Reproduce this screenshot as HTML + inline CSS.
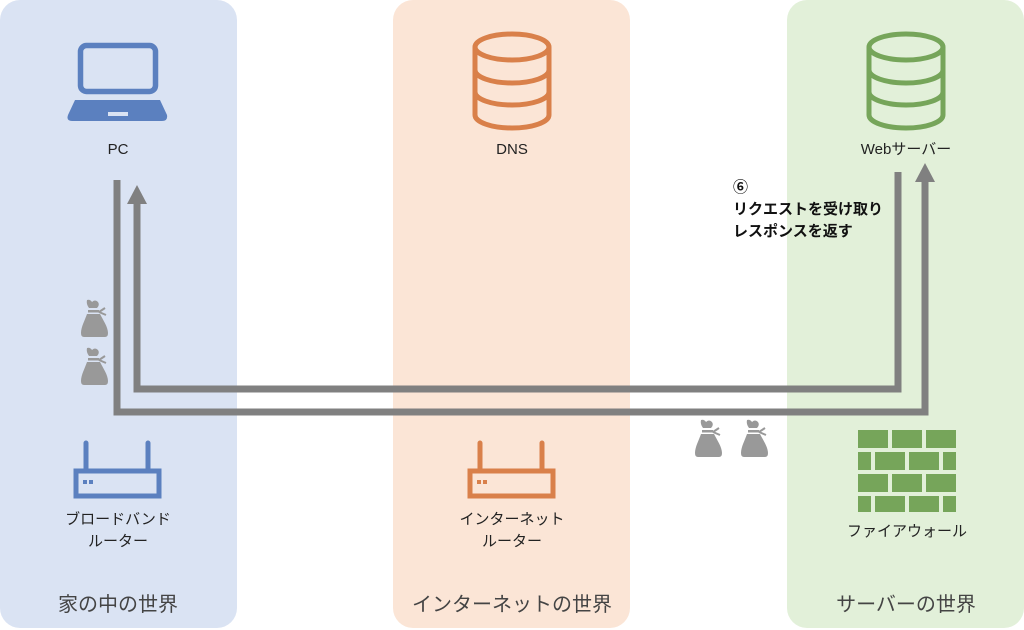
<!DOCTYPE html>
<html><head><meta charset="utf-8"><style>
body{margin:0;width:1024px;height:630px;background:#fff;overflow:hidden}
svg{display:block}
text{font-family:"Liberation Sans","Noto Sans CJK JP",sans-serif}
</style></head><body>
<svg width="1024" height="630" viewBox="0 0 1024 630">
<defs>
<g id="bag" fill="#999">
<path d="M6 0 Q9 -1 11 2 Q14 -1 17 2 Q19 5 16 8 L8 8 Q5 4 6 0Z"/>
<rect x="7" y="10" width="11" height="2.5"/>
<path d="M6 14 L19 14 C22 20 27 27 27 33 Q27 37 24 37 L3 37 Q0 37 0 33 C0 27 4 20 6 14Z"/>
<path d="M18 12 L24 8 M18 12 L25 15" stroke="#999" stroke-width="2" fill="none"/>
</g>
</defs>
<rect x="0" y="0" width="237" height="628" rx="20" fill="#dae3f3"/>
<rect x="393" y="0" width="237" height="628" rx="20" fill="#fbe5d6"/>
<rect x="787" y="0" width="237" height="628" rx="20" fill="#e2f0d9"/>

<rect x="80.5" y="45.5" width="75" height="46" rx="6" fill="none" stroke="#5b80bf" stroke-width="5.5"/>
<path d="M75 100 L160 100 L167 115 Q168 121 162 121 L72 121 Q66 121 68 115Z" fill="#5b80bf"/>
<rect x="108" y="112" width="20" height="4" fill="#dae3f3"/>
<text x="118" y="154" font-size="15" text-anchor="middle" fill="#222">PC</text>

<g fill="none" stroke="#d9804a" stroke-width="5">
<ellipse cx="512" cy="47" rx="37" ry="13"/>
<path d="M475 47 L475 115 A37 13 0 0 0 549 115 L549 47"/>
<path d="M475 70 A37 13 0 0 0 549 70"/>
<path d="M475 92 A37 13 0 0 0 549 92"/>
</g>
<text x="512" y="154" font-size="15" text-anchor="middle" fill="#222">DNS</text>

<g fill="none" stroke="#76a55a" stroke-width="5">
<ellipse cx="906" cy="47" rx="37" ry="13"/>
<path d="M869 47 L869 115 A37 13 0 0 0 943 115 L943 47"/>
<path d="M869 70 A37 13 0 0 0 943 70"/>
<path d="M869 92 A37 13 0 0 0 943 92"/>
</g>
<text x="906" y="154" font-size="15" text-anchor="middle" fill="#222">Webサーバー</text>

<g fill="none" stroke="#5b80bf" stroke-width="5" stroke-linecap="round">
<path d="M86 443 L86 470 M148 443 L148 470"/>
<rect x="76" y="471" width="83" height="25" stroke-linecap="butt"/>
</g>
<rect x="83" y="480" width="4" height="4" fill="#5b80bf"/><rect x="89" y="480" width="4" height="4" fill="#5b80bf"/>
<text x="118" y="524" font-size="15" text-anchor="middle" fill="#222">ブロードバンド</text>
<text x="118" y="546" font-size="15" text-anchor="middle" fill="#222">ルーター</text>

<g fill="none" stroke="#d9804a" stroke-width="5" stroke-linecap="round">
<path d="M480 443 L480 470 M542 443 L542 470"/>
<rect x="470" y="471" width="83" height="25" stroke-linecap="butt"/>
</g>
<rect x="477" y="480" width="4" height="4" fill="#d9804a"/><rect x="483" y="480" width="4" height="4" fill="#d9804a"/>
<text x="512" y="524" font-size="15" text-anchor="middle" fill="#222">インターネット</text>
<text x="512" y="546" font-size="15" text-anchor="middle" fill="#222">ルーター</text>

<g fill="#76a55a">
<rect x="858" y="430" width="30" height="18"/><rect x="892" y="430" width="30" height="18"/><rect x="926" y="430" width="30" height="18"/>
<rect x="858" y="452" width="13" height="18"/><rect x="875" y="452" width="30" height="18"/><rect x="909" y="452" width="30" height="18"/><rect x="943" y="452" width="13" height="18"/>
<rect x="858" y="474" width="30" height="18"/><rect x="892" y="474" width="30" height="18"/><rect x="926" y="474" width="30" height="18"/>
<rect x="858" y="496" width="13" height="16"/><rect x="875" y="496" width="30" height="16"/><rect x="909" y="496" width="30" height="16"/><rect x="943" y="496" width="13" height="16"/>
</g>
<text x="907" y="536" font-size="15" text-anchor="middle" fill="#222">ファイアウォール</text>

<g fill="none" stroke="#808080" stroke-width="7">
<path d="M117 180 L117 412 L925 412 L925 180"/>
<path d="M898 172 L898 389 L137 389 L137 200"/>
</g>
<polygon points="925,163 915,182 935,182" fill="#808080"/>
<polygon points="137,185 127,204 147,204" fill="#808080"/>

<use href="#bag" x="81" y="300"/>
<use href="#bag" x="81" y="348"/>
<use href="#bag" x="695" y="420"/>
<use href="#bag" x="741" y="420"/>

<text x="733" y="192" font-size="15" font-weight="bold" fill="#111">⑥</text>
<text x="733" y="214" font-size="15" font-weight="bold" fill="#111">リクエストを受け取り</text>
<text x="733" y="236" font-size="15" font-weight="bold" fill="#111">レスポンスを返す</text>

<text x="118" y="611" font-size="20" text-anchor="middle" fill="#444">家の中の世界</text>
<text x="512" y="611" font-size="20" text-anchor="middle" fill="#444">インターネットの世界</text>
<text x="906" y="611" font-size="20" text-anchor="middle" fill="#444">サーバーの世界</text>
</svg>
</body></html>
